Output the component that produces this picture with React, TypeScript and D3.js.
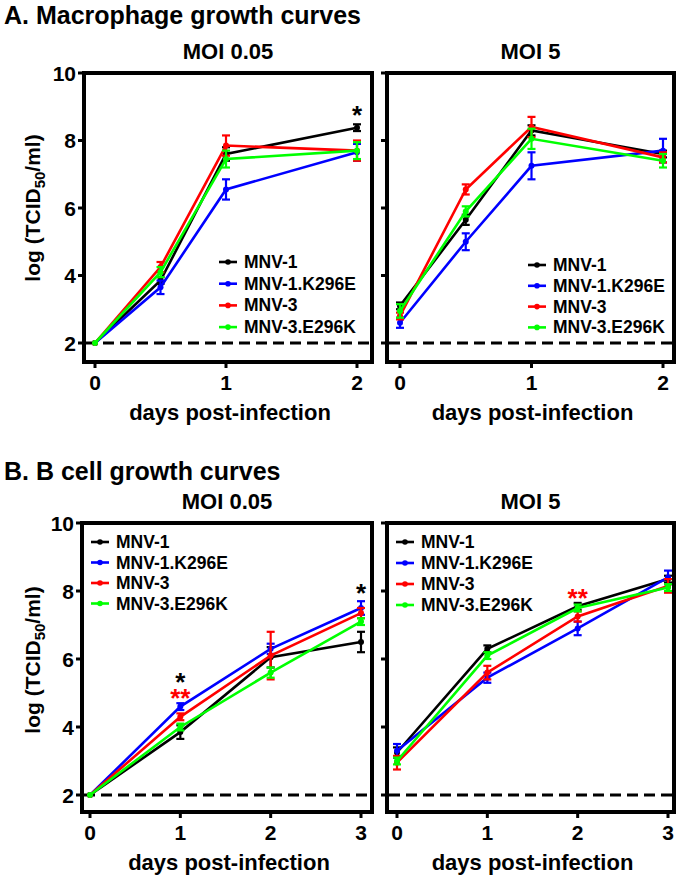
import React from "react";
import * as d3 from "d3";

const seriesNames = ["MNV-1", "MNV-1.K296E", "MNV-3", "MNV-3.E296K"];
const seriesColors = ["#000000", "#0000FF", "#FF0000", "#00FF00"];

// Panel A: macrophage
const daysA = [0, 0.5, 1, 2];
const aLowMean = [
  [2, 3.85, 7.6, 8.38],
  [2, 3.65, 6.55, 7.65],
  [2, 4.25, 7.85, 7.7],
  [2, 4.1, 7.45, 7.7],
];
const aLowErr = [
  [0, 0.1, 0.2, 0.1],
  [0, 0.2, 0.3, 0.25],
  [0, 0.15, 0.3, 0.3],
  [0, 0.15, 0.25, 0.25],
];
const aHighMean = [
  [3.1, 5.65, 8.3, 7.6],
  [2.6, 5.0, 7.25, 7.7],
  [2.8, 6.55, 8.4, 7.5],
  [2.95, 5.9, 8.05, 7.4],
];
const aHighErr = [
  [0.1, 0.15, 0.15, 0.1],
  [0.15, 0.25, 0.4, 0.35],
  [0.1, 0.15, 0.3, 0.15],
  [0.2, 0.15, 0.3, 0.2],
];

// Panel B: B cell
const daysB = [0, 1, 2, 3];
const bLowMean = [
  [2, 3.85, 6.05, 6.5],
  [2, 4.6, 6.3, 7.5],
  [2, 4.3, 6.1, 7.35],
  [2, 4.0, 5.6, 7.1],
];
const bLowErr = [
  [0, 0.2, 0.3, 0.3],
  [0, 0.1, 0.15, 0.2],
  [0, 0.1, 0.7, 0.15],
  [0, 0.1, 0.15, 0.1],
];
const bHighMean = [
  [3.25, 6.3, 7.55, 8.35],
  [3.3, 5.45, 6.9, 8.4],
  [2.95, 5.6, 7.25, 8.15],
  [3.0, 6.1, 7.5, 8.1],
];
const bHighErr = [
  [0.15, 0.1, 0.1, 0.1],
  [0.2, 0.15, 0.2, 0.2],
  [0.2, 0.2, 0.15, 0.2],
  [0.1, 0.1, 0.1, 0.1],
];

const yTicks = [2, 4, 6, 8, 10];
const xTicksA = [0, 1, 2];
const xTicksB = [0, 1, 2, 3];
const detectionLimit = 2;

type StarLine = { text: string; color: string };
type Star = { x: number; y: number; lines: StarLine[] };
const starsALow: Star[] = [{ x: 2, y: 8.9, lines: [{ text: "*", color: "#000" }] }];
const starsAHigh: Star[] = [];
const starsBLow: Star[] = [
  {
    x: 1,
    y: 5.47,
    lines: [
      { text: "*", color: "#000" },
      { text: "**", color: "#FF0000" },
    ],
  },
  { x: 3, y: 8.1, lines: [{ text: "*", color: "#000" }] },
];
const starsBHigh: Star[] = [{ x: 2, y: 7.94, lines: [{ text: "**", color: "#FF0000" }] }];

const FONT = "Liberation Sans, Arial, Helvetica, sans-serif";

type PanelProps = {
  left: number;
  right: number;
  top: number;
  bottom: number;
  x0: number;
  x1: number;
  y2: number;
  days: number[];
  xTicks: number[];
  means: number[][];
  errs: number[][];
  title: string;
  showYLabels: boolean;
  legendX: number;
  legendY: number;
  legendDy: number;
  stars: Star[];
};

function Panel(p: PanelProps) {
  const xDomainMax = p.xTicks[p.xTicks.length - 1];
  const x = d3.scaleLinear().domain([0, xDomainMax]).range([p.x0, p.x1]);
  const y = d3.scaleLinear().domain([2, 10]).range([p.y2, p.top]);
  const line = d3
    .line<[number, number]>()
    .x((d) => x(d[0]))
    .y((d) => y(d[1]));
  return (
    <g>
      <text
        x={(p.left + p.right) / 2}
        y={p.top - 14}
        textAnchor="middle"
        fontFamily={FONT}
        fontWeight="bold"
        fontSize={22}
      >
        {p.title}
      </text>
      <line
        x1={p.left + 2}
        x2={p.right - 2}
        y1={y(detectionLimit)}
        y2={y(detectionLimit)}
        stroke="#000"
        strokeWidth={3}
        strokeDasharray="11,6"
      />
      {p.means.map((m, si) => {
        const pts: [number, number][] = p.days.map((d, i) => [d, m[i]]);
        const col = seriesColors[si];
        return (
          <g key={si}>
            <path d={line(pts) || ""} fill="none" stroke={col} strokeWidth={2.6} />
            {pts.map((pt, i) => {
              const e = p.errs[si][i];
              const px = x(pt[0]);
              return (
                <g key={i}>
                  {e > 0 && (
                    <g stroke={col} strokeWidth={2.2}>
                      <line x1={px} x2={px} y1={y(pt[1] - e)} y2={y(pt[1] + e)} />
                      <line x1={px - 4} x2={px + 4} y1={y(pt[1] - e)} y2={y(pt[1] - e)} />
                      <line x1={px - 4} x2={px + 4} y1={y(pt[1] + e)} y2={y(pt[1] + e)} />
                    </g>
                  )}
                  <circle cx={px} cy={y(pt[1])} r={3} fill={col} />
                </g>
              );
            })}
          </g>
        );
      })}
      <rect
        x={p.left}
        y={p.top}
        width={p.right - p.left}
        height={p.bottom - p.top}
        fill="none"
        stroke="#000"
        strokeWidth={4}
      />
      {yTicks.map((t) => (
        <g key={t}>
          <line x1={p.left - 6} x2={p.left} y1={y(t)} y2={y(t)} stroke="#000" strokeWidth={3} />
          {p.showYLabels && (
            <text
              x={p.left - 8}
              y={y(t) + 7.5}
              textAnchor="end"
              fontFamily={FONT}
              fontWeight="bold"
              fontSize={21}
            >
              {t}
            </text>
          )}
        </g>
      ))}
      {p.xTicks.map((t) => (
        <g key={t}>
          <line x1={x(t)} x2={x(t)} y1={p.bottom} y2={p.bottom + 6} stroke="#000" strokeWidth={3} />
          <text
            x={x(t)}
            y={p.bottom + 28}
            textAnchor="middle"
            fontFamily={FONT}
            fontWeight="bold"
            fontSize={21}
          >
            {t}
          </text>
        </g>
      ))}
      <text
        x={(p.left + p.right) / 2 + 2}
        y={p.bottom + 58}
        textAnchor="middle"
        fontFamily={FONT}
        fontWeight="bold"
        fontSize={22}
      >
        days post-infection
      </text>
      {seriesNames.map((n, i) => {
        const ly = p.legendY + i * p.legendDy;
        return (
          <g key={n}>
            <line x1={p.legendX} x2={p.legendX + 18} y1={ly} y2={ly} stroke={seriesColors[i]} strokeWidth={2.6} />
            <circle cx={p.legendX + 9} cy={ly} r={2.8} fill={seriesColors[i]} />
            <text x={p.legendX + 25} y={ly + 6} fontFamily={FONT} fontWeight="bold" fontSize={17.5}>
              {n}
            </text>
          </g>
        );
      })}
      {p.stars.map((s, i) => (
        <text
          key={i}
          x={x(s.x)}
          y={y(s.y) + 14}
          textAnchor="middle"
          fontFamily={FONT}
          fontWeight="bold"
          fontSize={26}
        >
          {s.lines.map((l, j) => (
            <tspan key={j} x={x(s.x)} dy={j === 0 ? 0 : 16} fill={l.color}>
              {l.text}
            </tspan>
          ))}
        </text>
      ))}
    </g>
  );
}

function YLabel({ cx, cy }: { cx: number; cy: number }) {
  return (
    <text
      transform={`translate(${cx},${cy}) rotate(-90)`}
      textAnchor="middle"
      fontFamily={FONT}
      fontWeight="bold"
      fontSize={21}
    >
      log (TCID
      <tspan fontSize={15} dy={5}>
        50
      </tspan>
      <tspan dy={-5}>/ml)</tspan>
    </text>
  );
}

export default function App() {
  return (
    <svg width={680} height={878} style={{ position: "absolute", left: 0, top: 0, background: "#fff" }}>
      <rect width={680} height={878} fill="#fff" />
      <text x={4} y={24} fontFamily={FONT} fontWeight="bold" fontSize={25}>
        A. Macrophage growth curves
      </text>
      <text x={4} y={480} fontFamily={FONT} fontWeight="bold" fontSize={25}>
        B. B cell growth curves
      </text>
      <YLabel cx={40} cy={208} />
      <YLabel cx={40} cy={660} />
      <Panel
        left={84} right={372} top={73} bottom={362}
        x0={95} x1={357} y2={343}
        days={daysA} xTicks={xTicksA}
        means={aLowMean} errs={aLowErr}
        title="MOI 0.05" showYLabels={true}
        legendX={219} legendY={262} legendDy={21.7}
        stars={starsALow}
      />
      <Panel
        left={387} right={674} top={73} bottom={362}
        x0={400} x1={663} y2={343}
        days={daysA} xTicks={xTicksA}
        means={aHighMean} errs={aHighErr}
        title="MOI 5" showYLabels={false}
        legendX={528} legendY={265} legendDy={20.8}
        stars={starsAHigh}
      />
      <Panel
        left={82} right={372} top={523} bottom={812}
        x0={90} x1={361} y2={795}
        days={daysB} xTicks={xTicksB}
        means={bLowMean} errs={bLowErr}
        title="MOI 0.05" showYLabels={true}
        legendX={91} legendY={542} legendDy={20.5}
        stars={starsBLow}
      />
      <Panel
        left={387} right={674} top={523} bottom={812}
        x0={397} x1={668} y2={795}
        days={daysB} xTicks={xTicksB}
        means={bHighMean} errs={bHighErr}
        title="MOI 5" showYLabels={false}
        legendX={396} legendY={542} legendDy={21}
        stars={starsBHigh}
      />
    </svg>
  );
}
